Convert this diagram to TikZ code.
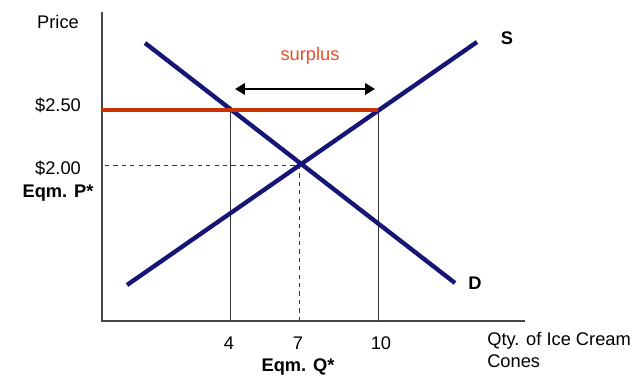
\documentclass[tikz,border=0pt]{standalone}
\usepackage{fontspec}
\setmainfont{Liberation Sans}
\usetikzlibrary{arrows.meta}
\definecolor{curveblue}{RGB}{22,22,118}
\definecolor{pricered}{RGB}{205,50,5}
\definecolor{labelred}{RGB}{228,80,40}
\definecolor{axisgray}{RGB}{70,70,70}
\tikzset{
    curve/.style={curveblue, line width=3.1pt},
    axisline/.style={axisgray, line width=1pt},
    guide/.style={black!80, line width=0.6pt},
    lbl/.style={font=\fontsize{13}{15.5}\selectfont, inner sep=0pt},
    boldlbl/.style={lbl, font=\fontsize{13}{15.5}\selectfont\bfseries},
}
\begin{document}
\begin{tikzpicture}[x=0.025cm, y=-0.025cm]
    \useasboundingbox (0,0) rectangle (640,377);

    % 坐标轴
    \coordinate (top) at (102,12);
    \coordinate (origin) at (102,321);
    \coordinate (right) at (525,321);
    \draw[axisline] (top) -- (origin) -- (right);
    \node[lbl] (price) at (58,22) {Price};
    \node[lbl, anchor=west, align=left] (qty) at (487,350) {Qty. of Ice Cream\\Cones};

    % 价格线
    \coordinate (p250) at (102,110);
    \coordinate (p200) at (102,165);
    \node[lbl] (l250) at (58,105) {\$2.50};
    \node[lbl] (l200) at (58,168) {\$2.00};
    \node[boldlbl] (eqp) at (58,193) {Eqm. P*};

    % 数量
    \coordinate (q4) at (230,321);
    \coordinate (q7) at (299,321);
    \coordinate (q10) at (378,321);
    \coordinate (a4) at (230,110);
    \coordinate (eq) at (299,165);
    \coordinate (a10) at (378,110);
    \node[lbl] (l4) at (229,343) {4};
    \node[lbl] (l7) at (298,343) {7};
    \node[lbl] (l10) at (381,343) {10};
    \node[boldlbl] (eqq) at (298,367) {Eqm. Q*};

    % 辅助线
    \draw[guide] (q4) -- (a4);
    \draw[guide] (q10) -- (a10);
    \draw[guide, dashed] (q7) -- (eq) -- (p200);

    % 供求曲线
    \coordinate (d1) at (145,43);
    \coordinate (d2) at (455,283);
    \coordinate (s1) at (127,285);
    \coordinate (s2) at (477,42);
    \draw[curve] (d1) -- (d2);
    \draw[curve] (s1) -- (s2);
    \node[boldlbl] (slbl) at (507,38) {S};
    \node[boldlbl] (dlbl) at (475,283) {D};

    % 过剩
    \draw[pricered, line width=2.2pt] (p250) -- (a10);
    \coordinate (sur1) at (235,89);
    \coordinate (sur2) at (375,89);
    \draw[black, line width=1.8pt, {Triangle[length=7pt,width=8pt]}-{Triangle[length=7pt,width=8pt]}] (sur1) -- (sur2);
    \node[lbl, labelred] (surplus) at (310,56) {surplus};
\end{tikzpicture}
\end{document}
